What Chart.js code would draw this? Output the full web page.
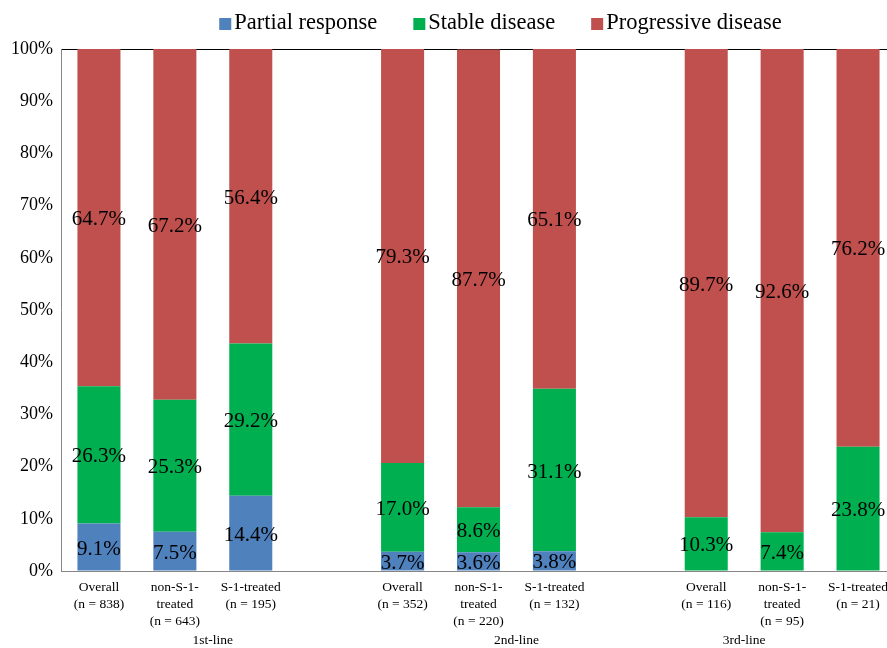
<!DOCTYPE html>
<html>
<head>
<meta charset="utf-8">
<script src="https://cdn.jsdelivr.net/npm/chart.js@4.4.1/dist/chart.umd.min.js"></script>
<style>
  html, body { margin: 0; padding: 0; background: #ffffff; overflow: hidden; }
  #wrap { width: 900px; height: 648px; }
</style>
</head>
<body>
<div id="wrap"><canvas id="c" width="900" height="648"></canvas></div>
<script>
// Categories: three treatment lines, each followed by an empty spacer slot
const categories = [
  ['Overall', '(n = 838)'], ['non-S-1-', 'treated', '(n = 643)'], ['S-1-treated', '(n = 195)'], '',
  ['Overall', '(n = 352)'], ['non-S-1-', 'treated', '(n = 220)'], ['S-1-treated', '(n = 132)'], '',
  ['Overall', '(n = 116)'], ['non-S-1-', 'treated', '(n = 95)'], ['S-1-treated', '(n = 21)']
];
const groupLabels = ['1st-line', '2nd-line', '3rd-line'];

// Response rates (%)
const partialResponse   = [9.1, 7.5, 14.4, null, 3.7, 3.6, 3.8, null, 0, 0, 0];
const stableDisease     = [26.3, 25.3, 29.2, null, 17.0, 8.6, 31.1, null, 10.3, 7.4, 23.8];
const progressiveDisease = [64.7, 67.2, 56.4, null, 79.3, 87.7, 65.1, null, 89.7, 92.6, 76.2];

const yTicks = [0, 10, 20, 30, 40, 50, 60, 70, 80, 90, 100];

const SERIF = '"Liberation Serif", "Times New Roman", serif';

// Percentage labels centred in each segment
const segmentLabels = {
  id: 'segmentLabels',
  afterDatasetsDraw(chart) {
    const ctx = chart.ctx;
    ctx.save();
    ctx.font = '21px ' + SERIF;
    ctx.fillStyle = '#000';
    ctx.textAlign = 'center';
    ctx.textBaseline = 'middle';
    chart.data.datasets.forEach((ds, di) => {
      const meta = chart.getDatasetMeta(di);
      meta.data.forEach((el, i) => {
        const v = ds.data[i];
        if (v === null || v === 0) return;
        const y = (el.y + el.base) / 2 + 2;
        ctx.fillText(v.toFixed(1) + '%', el.x, y);
      });
    });
    ctx.restore();
  }
};

// Legend row across the top
const topLegend = {
  id: 'topLegend',
  afterDraw(chart) {
    const ctx = chart.ctx;
    ctx.save();
    ctx.font = '22.5px ' + SERIF;
    ctx.textBaseline = 'middle';
    ctx.textAlign = 'left';
    const box = 12, boxGap = 3, itemGap = 36;
    const items = chart.data.datasets.map(d => ({ text: d.label, color: d.backgroundColor }));
    const widths = items.map(it => box + boxGap + ctx.measureText(it.text).width);
    const total = widths.reduce((a, b) => a + b, 0) + itemGap * (items.length - 1);
    let x = 500.5 - total / 2;
    const cy = 23;
    items.forEach((it, k) => {
      ctx.fillStyle = it.color;
      ctx.fillRect(x, cy - box / 2 + 1, box, box);
      ctx.fillStyle = '#000';
      ctx.fillText(it.text, x + box + boxGap, cy);
      x += widths[k] + itemGap;
    });
    ctx.restore();
  }
};

// Treatment-line labels under the category labels
const groupAxis = {
  id: 'groupAxis',
  afterDraw(chart) {
    const ctx = chart.ctx;
    const xs = chart.scales.x;
    const centres = [1.5, 5.5, 8.5];
    const step = xs.getPixelForValue(1) - xs.getPixelForValue(0);
    ctx.save();
    ctx.font = '13.5px ' + SERIF;
    ctx.fillStyle = '#000';
    ctx.textAlign = 'center';
    ctx.textBaseline = 'middle';
    groupLabels.forEach((g, k) => {
      const x = xs.getPixelForValue(0) + centres[k] * step;
      ctx.fillText(g, x, 640);
    });
    ctx.restore();
  }
};

const colors = { pr: '#4F81BD', sd: '#00B050', pd: '#C0504D' };

new Chart(document.getElementById('c'), {
  type: 'bar',
  data: {
    labels: categories,
    datasets: [
      { label: 'Partial response', data: partialResponse, backgroundColor: colors.pr },
      { label: 'Stable disease', data: stableDisease, backgroundColor: colors.sd },
      { label: 'Progressive disease', data: progressiveDisease, backgroundColor: colors.pd }
    ]
  },
  options: {
    responsive: false,
    animation: false,
    devicePixelRatio: 1,
    layout: { padding: { top: 49, right: 4, left: 0, bottom: 0 } },
    datasets: { bar: { categoryPercentage: 1.0, barPercentage: 0.567 } },
    plugins: {
      legend: { display: false },
      tooltip: { enabled: false }
    },
    scales: {
      x: {
        stacked: true,
        grid: { display: false, drawTicks: false },
        border: { display: true, color: '#868686', width: 1 },
        ticks: {
          autoSkip: false, maxRotation: 0, minRotation: 0,
          padding: 8,
          color: '#000',
          font: { family: SERIF, size: 13.5, lineHeight: 1.25 }
        },
        afterFit(scale) { scale.height = 77; }
      },
      y: {
        stacked: true,
        min: 0, max: 100,
        afterBuildTicks(scale) { scale.ticks = yTicks.map(v => ({ value: v })); },
        grid: {
          drawTicks: false,
          color: ctx => (ctx.tick && ctx.tick.value === 100) ? '#000' : 'rgba(0,0,0,0)',
          lineWidth: 1
        },
        border: { display: true, color: '#868686', width: 1 },
        ticks: {
          padding: 8,
          color: '#000',
          font: { family: SERIF, size: 18 },
          callback: v => v + '%'
        },
        afterFit(scale) { scale.width = 61; }
      }
    }
  },
  plugins: [segmentLabels, topLegend, groupAxis]
});
</script>
</body>
</html>
